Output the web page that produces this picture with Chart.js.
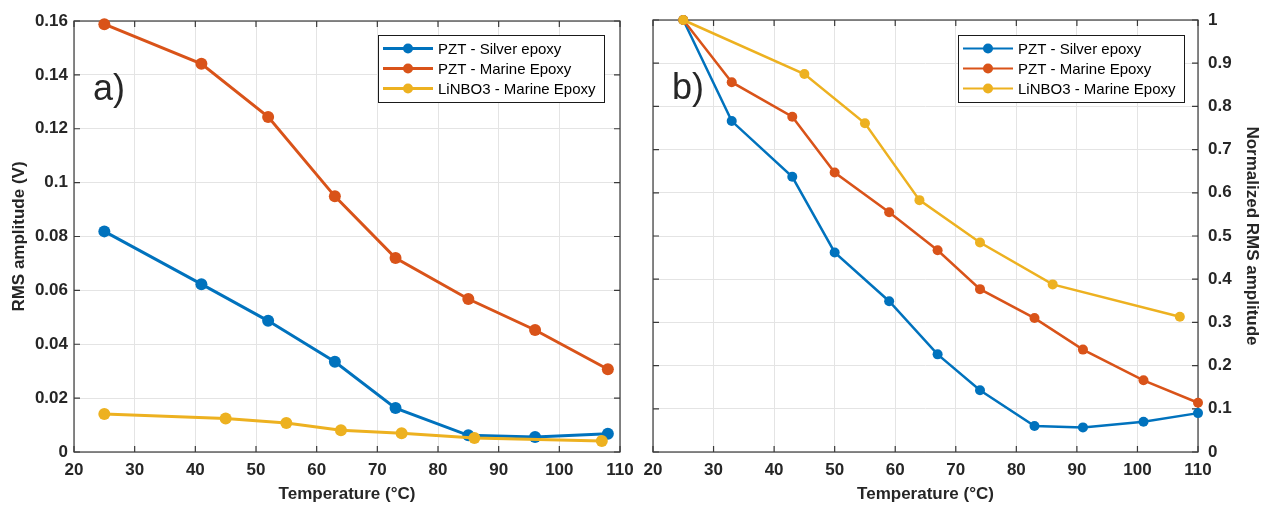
<!DOCTYPE html>
<html>
<head>
<meta charset="utf-8">
<title>RMS amplitude vs temperature</title>
<script src="https://cdn.jsdelivr.net/npm/chart.js"></script>
<style>
  html, body { margin: 0; padding: 0; background: #fff; overflow: hidden; }
  .panel { position: absolute; top: 0; width: 635px; height: 508px; }
  #panelA { left: 0; }
  #panelB { left: 635px; }
</style>
</head>
<body>
<div class="panel" id="panelA"><canvas id="chartA"></canvas></div>
<div class="panel" id="panelB"><canvas id="chartB"></canvas></div>
<script>
const seriesNames = ["PZT - Silver epoxy", "PZT - Marine Epoxy", "LiNBO3 - Marine Epoxy"];
const seriesColors = ["#0072BD", "#D95319", "#EDB120"];

// a) RMS amplitude in volts
const tempSilverA = [25, 41, 52, 63, 73, 85, 96, 108];
const rmsSilverA = [0.0819, 0.0623, 0.0487, 0.0335, 0.0163, 0.0062, 0.0056, 0.0068];
const tempMarineA = [25, 41, 52, 63, 73, 85, 96, 108];
const rmsMarineA = [0.1588, 0.1441, 0.1244, 0.0949, 0.0720, 0.0568, 0.0453, 0.0307];
const tempLinbA = [25, 45, 55, 64, 74, 86, 107];
const rmsLinbA = [0.0141, 0.0124, 0.0108, 0.0081, 0.0070, 0.0052, 0.0041];

// b) RMS amplitude normalized to the 25 °C value
const tempSilverB = [25, 33, 43, 50, 59, 67, 74, 83, 91, 101, 110];
const normSilverB = [1.0, 0.766, 0.637, 0.462, 0.349, 0.226, 0.143, 0.060, 0.057, 0.070, 0.090];
const tempMarineB = [25, 33, 43, 50, 59, 67, 74, 83, 91, 101, 110];
const normMarineB = [1.0, 0.856, 0.776, 0.647, 0.555, 0.467, 0.377, 0.310, 0.237, 0.166, 0.114];
const tempLinbB = [25, 45, 55, 64, 74, 86, 107];
const normLinbB = [1.0, 0.875, 0.761, 0.583, 0.485, 0.388, 0.313];

const tempTicks = [20, 30, 40, 50, 60, 70, 80, 90, 100, 110];
const rmsTicks = [0, 0.02, 0.04, 0.06, 0.08, 0.1, 0.12, 0.14, 0.16];
const normTicks = [0, 0.1, 0.2, 0.3, 0.4, 0.5, 0.6, 0.7, 0.8, 0.9, 1];

Chart.defaults.font.family = "'Liberation Sans', Arial, sans-serif";
Chart.defaults.color = "#262626";

const TEXT_DARK = "#262626";
const BOX_COLOR = "#3a3a3a";

// MATLAB-like box: frame around the plot area with short inward ticks on every side
const axesBox = {
    id: "axesBox",
    beforeDatasetsDraw(chart) {
        const { ctx, chartArea: a } = chart;
        const xs = chart.scales.x;
        const ys = chart.scales.y;
        const len = 6;
        ctx.save();
        ctx.strokeStyle = BOX_COLOR;
        ctx.lineWidth = 1.2;
        ctx.beginPath();
        xs.ticks.forEach(t => {
            const px = xs.getPixelForValue(t.value);
            ctx.moveTo(px, a.bottom);
            ctx.lineTo(px, a.bottom - len);
            ctx.moveTo(px, a.top);
            ctx.lineTo(px, a.top + len);
        });
        ys.ticks.forEach(t => {
            const py = ys.getPixelForValue(t.value);
            ctx.moveTo(a.left, py);
            ctx.lineTo(a.left + len, py);
            ctx.moveTo(a.right, py);
            ctx.lineTo(a.right - len, py);
        });
        ctx.stroke();
        ctx.strokeRect(a.left, a.top, a.right - a.left, a.bottom - a.top);
        ctx.restore();
    }
};

// legend box inside the plot, each entry is a line with a marker in the middle
const boxLegend = {
    id: "boxLegend",
    afterDraw(chart, args, opts) {
        const { ctx, chartArea: a } = chart;
        const w = 226, h = 67, rowGap = 20;
        const left = a.right - opts.right - w;
        const top = a.top + opts.top;
        ctx.save();
        ctx.fillStyle = "#ffffff";
        ctx.fillRect(left, top, w, h);
        ctx.strokeStyle = "#1a1a1a";
        ctx.lineWidth = 1;
        ctx.strokeRect(left + 0.5, top + 0.5, w, h);
        ctx.font = "15px 'Liberation Sans', Arial, sans-serif";
        ctx.textBaseline = "middle";
        chart.data.datasets.forEach((ds, i) => {
            const y = top + 13.5 + i * rowGap;
            ctx.strokeStyle = ds.borderColor;
            ctx.lineWidth = opts.lineWidth;
            ctx.beginPath();
            ctx.moveTo(left + 5, y);
            ctx.lineTo(left + 55, y);
            ctx.stroke();
            ctx.fillStyle = ds.borderColor;
            ctx.beginPath();
            ctx.arc(left + 30, y, 5, 0, Math.PI * 2);
            ctx.fill();
            ctx.fillStyle = "#000000";
            ctx.fillText(ds.label, left + 60, y + 1);
        });
        ctx.restore();
    }
};

const panelLabel = {
    id: "panelLabel",
    afterDraw(chart, args, opts) {
        const { ctx, chartArea: a } = chart;
        ctx.save();
        ctx.fillStyle = TEXT_DARK;
        ctx.font = "36px 'Liberation Sans', Arial, sans-serif";
        ctx.textBaseline = "alphabetic";
        ctx.fillText(opts.text, a.left + 19, a.top + 79);
        ctx.restore();
    }
};

function makeDataset(i, temps, values, width, radius) {
    return {
        label: seriesNames[i],
        data: temps.map((t, k) => ({ x: t, y: values[k] })),
        borderColor: seriesColors[i],
        backgroundColor: seriesColors[i],
        pointBackgroundColor: seriesColors[i],
        pointBorderWidth: 0,
        pointRadius: radius,
        borderWidth: width,
        tension: 0,
        clip: false,
        order: 2 - i
    };
}

function fixedTicks(values) {
    return scale => {
        scale.ticks = values.map(v => ({ value: v }));
    };
}

function formatTick(v) {
    return Number(v.toFixed(2)).toString();
}

function createChart(canvasId, datasets, cfg) {
    const ctx = document.getElementById(canvasId).getContext("2d");
    const tickFont = { size: 17, weight: "bold" };
    return new Chart(ctx, {
        type: "line",
        data: { datasets },
        options: {
            responsive: true,
            maintainAspectRatio: false,
            animation: false,
            devicePixelRatio: 1,
            layout: { padding: cfg.padding },
            plugins: {
                legend: { display: false },
                tooltip: { enabled: false },
                boxLegend: cfg.legend,
                panelLabel: { text: cfg.label }
            },
            scales: {
                x: {
                    type: "linear",
                    min: 20,
                    max: 110,
                    afterBuildTicks: fixedTicks(tempTicks),
                    afterFit: scale => {
                        scale.height = 56;
                        scale.paddingLeft = 0;
                        scale.paddingRight = 0;
                    },
                    grid: { color: "#e4e4e4", drawTicks: false },
                    border: { display: false },
                    ticks: { font: tickFont, color: TEXT_DARK, padding: 8, maxRotation: 0 },
                    title: {
                        display: true,
                        text: "Temperature (°C)",
                        font: { size: 17, weight: "bold" },
                        color: TEXT_DARK,
                        padding: { top: 0, bottom: 3 }
                    }
                },
                y: {
                    type: "linear",
                    position: cfg.yPosition,
                    min: 0,
                    max: cfg.yMax,
                    afterBuildTicks: fixedTicks(cfg.yTicks),
                    afterFit: scale => {
                        scale.width = cfg.yWidth;
                        scale.paddingTop = 0;
                        scale.paddingBottom = 0;
                    },
                    grid: { color: "#e4e4e4", drawTicks: false },
                    border: { display: false },
                    ticks: { font: tickFont, color: TEXT_DARK, padding: cfg.yPad, callback: formatTick },
                    title: {
                        display: true,
                        text: cfg.yTitle,
                        font: { size: 17, weight: "bold" },
                        color: TEXT_DARK,
                        padding: { top: cfg.yTitlePad, bottom: 0 }
                    }
                }
            }
        },
        plugins: [axesBox, boxLegend, panelLabel]
    });
}

createChart("chartA", [
    makeDataset(0, tempSilverA, rmsSilverA, 3, 6),
    makeDataset(1, tempMarineA, rmsMarineA, 3, 6),
    makeDataset(2, tempLinbA, rmsLinbA, 3, 6)
], {
    padding: { left: 0, right: 15, top: 21, bottom: 0 },
    yPosition: "left",
    yMax: 0.16,
    yTicks: rmsTicks,
    yWidth: 74,
    yPad: 6,
    yTitle: "RMS amplitude (V)",
    yTitlePad: 9,
    label: "a)",
    legend: { right: 16, top: 14, lineWidth: 3 }
});

createChart("chartB", [
    makeDataset(0, tempSilverB, normSilverB, 2.5, 5),
    makeDataset(1, tempMarineB, normMarineB, 2.5, 5),
    makeDataset(2, tempLinbB, normLinbB, 2.5, 5)
], {
    padding: { left: 18, right: 0, top: 20, bottom: 0 },
    yPosition: "right",
    yMax: 1,
    yTicks: normTicks,
    yWidth: 72,
    yPad: 10,
    yTitle: "Normalized RMS amplitude",
    yTitlePad: 8,
    label: "b)",
    legend: { right: 14, top: 15, lineWidth: 2 }
});
</script>
</body>
</html>
